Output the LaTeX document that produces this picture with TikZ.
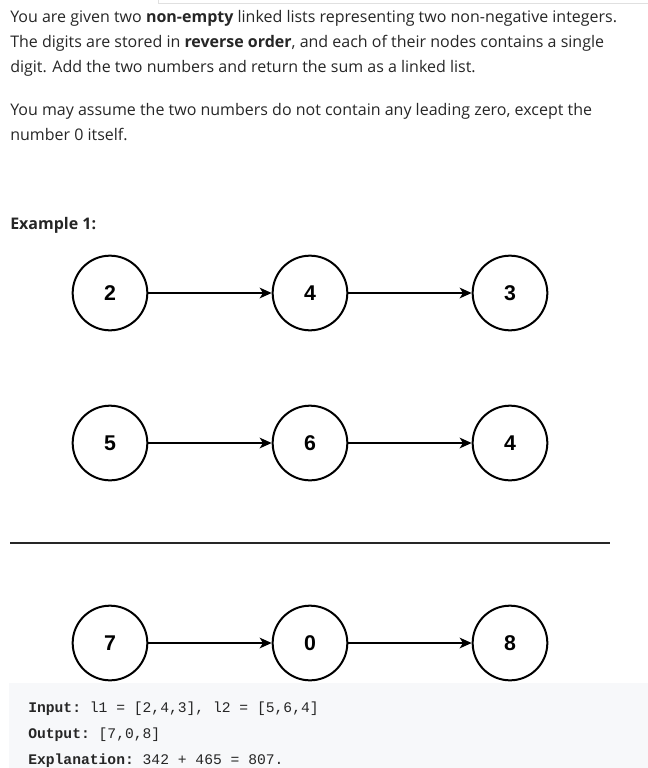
\documentclass[tikz,border=0pt]{standalone}
\usepackage{fontspec}
\setmainfont{Open Sans}
\setsansfont{Liberation Sans}
\setmonofont{Liberation Mono}
\usetikzlibrary{arrows.meta, positioning}
\definecolor{codebg}{HTML}{F7F8FA}
\definecolor{txt}{HTML}{262626}
\tikzset{%
  >={Stealth[width=8pt, length=9pt, inset=2.5pt]},
  digit/.style = {circle, draw = black, line width = 1.5pt, minimum size = 56pt, inner sep = 0pt, fill = white, font = \sffamily\bfseries\fontsize{16}{16}\selectfont},
  para/.style = {anchor = base west, inner sep = 0pt, text = txt, font = \fontsize{12}{14}\selectfont},
  code/.style = {anchor = base west, inner sep = 0pt, text = txt, font = \ttfamily\fontsize{11}{12}\selectfont},
  link/.style = {->, line width = 1.4pt}
}

\begin{document}
\begin{tikzpicture}[x=0.75pt, y=-0.75pt, node distance=150pt]
    \useasboundingbox (0,0) rectangle (648,768);
    \draw[black!12] (158,0) -- (158,3) -- (648,3);
    \node[para] at (10,22) (LineA) {You are given two \textbf{non-empty} linked lists representing two non-negative integers.};
    \node[para] at (10,47) (LineB) {The digits are stored in \textbf{reverse order}, and each of their nodes contains a single};
    \node[para] at (10,72) (LineC) {digit. Add the two numbers and return the sum as a linked list.};
    \node[para] at (10,115) (LineD) {You may assume the two numbers do not contain any leading zero, except the};
    \node[para] at (10,140) (LineE) {number 0 itself.};
    \node[para, font = \bfseries\fontsize{12}{14}\selectfont] at (10,229) (ExampleLabel) {Example 1:};
    % first list
    \node[digit] at (110,293) (OneA) {2};
    \node[digit, right of = OneA] (OneB) {4};
    \node[digit, right of = OneB] (OneC) {3};
    \draw[link] (OneA) -- (OneB);
    \draw[link] (OneB) -- (OneC);
    % second list
    \node[digit] at (110,443) (TwoA) {5};
    \node[digit, right of = TwoA] (TwoB) {6};
    \node[digit, right of = TwoB] (TwoC) {4};
    \draw[link] (TwoA) -- (TwoB);
    \draw[link] (TwoB) -- (TwoC);
    \draw[line width = 2.2pt, black!85] (10,543) -- (610,543);
    % sum list
    \node[digit] at (110,643) (SumA) {7};
    \node[digit, right of = SumA] (SumB) {0};
    \node[digit, right of = SumB] (SumC) {8};
    \draw[link] (SumA) -- (SumB);
    \draw[link] (SumB) -- (SumC);
    % code box
    \fill[codebg] (9,683) rectangle (648,768);
    \node[code] at (28,712) (InputLine) {\textbf{Input:} l1 = [2,4,3], l2 = [5,6,4]};
    \node[code] at (28,738) (OutputLine) {\textbf{Output:} [7,0,8]};
    \node[code] at (28,764) (ExplainLine) {\textbf{Explanation:} 342 + 465 = 807.};
  \end{tikzpicture}
\end{document}
